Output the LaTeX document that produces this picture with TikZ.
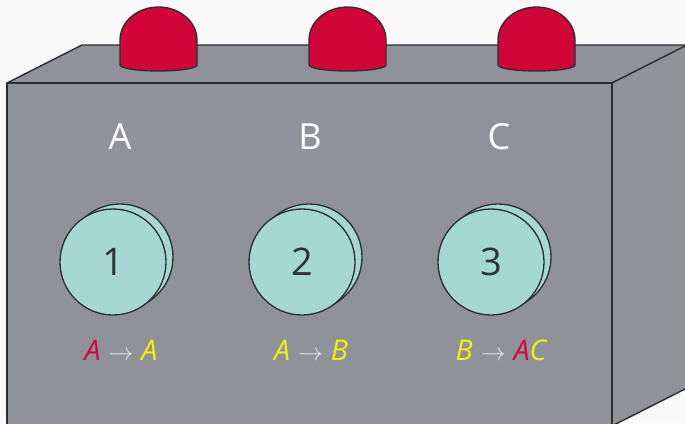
\documentclass[tikz,border=0pt]{standalone}
\usepackage{fontspec}
\setmainfont{Open Sans}
\begin{document}
\definecolor{bgc}{HTML}{F9F9F9}
\definecolor{boxc}{HTML}{8F9399}
\definecolor{edgec}{HTML}{2B2D30}
\definecolor{domec}{HTML}{D10538}
\definecolor{btnc}{HTML}{A5D8D2}
\definecolor{numc}{HTML}{2E3339}
\definecolor{labred}{HTML}{D4063E}
\definecolor{labyel}{HTML}{F4F00A}
\definecolor{arrc}{HTML}{E4E4E4}
\begin{tikzpicture}[x=1pt,y=-1pt,
  face/.style={fill=boxc,draw=edgec,line width=1.4pt,line join=round},
  dome/.style={fill=domec,draw=edgec,line width=1.3pt},
  btn/.style={fill=btnc,draw=edgec,line width=1.3pt},
  letter/.style={text=white,font=\fontsize{36}{40}\selectfont},
  num/.style={text=numc,font=\fontsize{38}{42}\selectfont},
  rule/.style={font=\fontsize{28.5}{32}\selectfont}]
\useasboundingbox (0,0) rectangle (685,423);
\fill[bgc] (0,0) rectangle (685,423);
\clip (0,0) rectangle (685,423);
% box faces
\draw[face] (7,83) -- (82,45) -- (690,45) -- (612,83) -- cycle;
\draw[face] (612,83) -- (687,45) -- (687,388) -- (612,426) -- cycle;
\draw[face] (7,83) rectangle (612,430);
% domes on the lid
\foreach \cx/\nm in {158.5/d1,347.5/d2,536.5/d3}{
  \draw[dome] (\cx-38.5,65) -- (\cx-38.5,40)
    arc[start angle=180,end angle=0,x radius=38.5pt,y radius=33pt]
    -- (\cx+38.5,65)
    arc[start angle=0,end angle=-180,x radius=38.5pt,y radius=6pt] -- cycle;
  \coordinate (\nm) at (\cx,40);
}
% channel letters
\node[letter] (la) at (120,137) {A};
\node[letter] (lb) at (310,137) {B};
\node[letter] (lc) at (499,137) {C};
% buttons
\foreach \cx/\n in {113/1,302/2,491/3}{
  \draw[btn] (\cx+7,257) circle[radius=53pt];
  \draw[btn] (\cx,262) circle[radius=53pt];
  \node[num] (b\n) at (\cx,262) {\n};
}
% rules
\node[rule] (r1) at (121,350) {\textcolor{labred}{\itshape A}\;\textcolor{arrc}{$\rightarrow$}\;\textcolor{labyel}{\itshape A}};
\node[rule] (r2) at (311,350) {\textcolor{labyel}{\itshape A}\;\textcolor{arrc}{$\rightarrow$}\;\textcolor{labyel}{\itshape B}};
\node[rule] (r3) at (501,350) {\textcolor{labyel}{\itshape B}\;\textcolor{arrc}{$\rightarrow$}\;\textcolor{labred}{\itshape A}\textcolor{labyel}{\itshape C}};
\end{tikzpicture}
\end{document}
